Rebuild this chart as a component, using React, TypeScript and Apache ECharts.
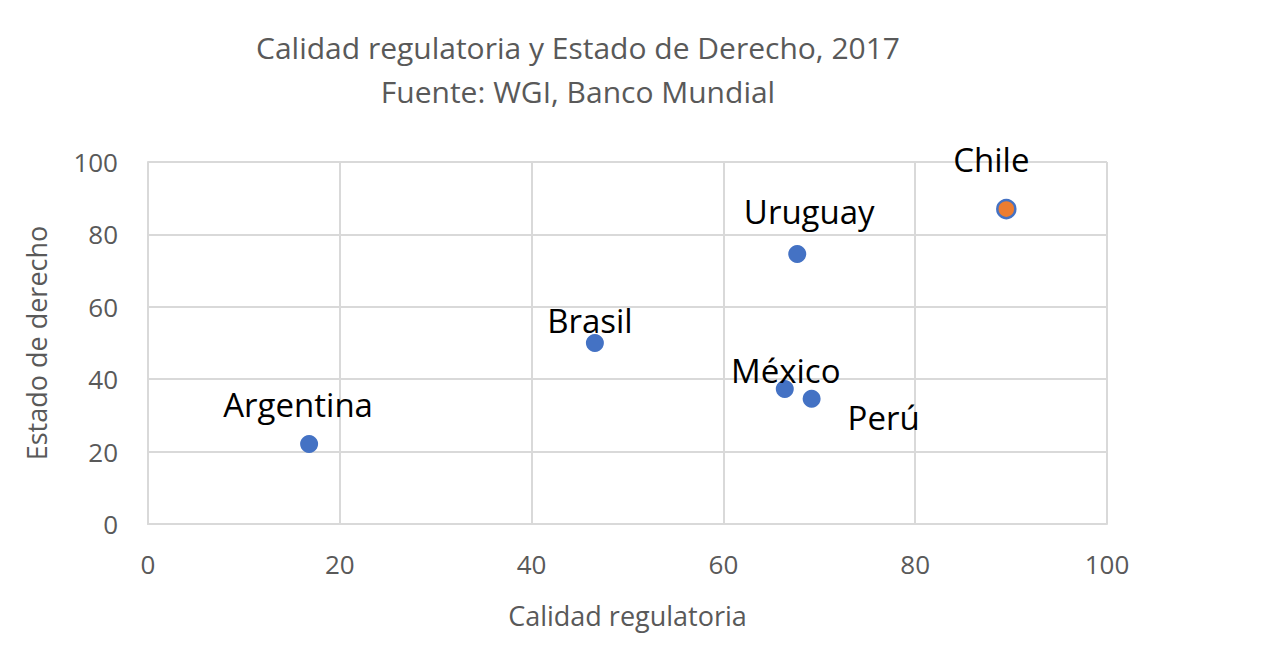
import React, { useEffect, useRef } from "react";
import * as echarts from "echarts";

const countries = ["Argentina", "Brasil", "México", "Perú", "Uruguay", "Chile"];
const calidadRegulatoria = [16.8, 46.6, 66.4, 69.2, 67.7, 89.5];
const estadoDeDerecho = [22.1, 50.0, 37.3, 34.6, 74.6, 87.0];
const labelOffsets: [number, number][] = [
  [-11, -39],
  [-5, -23],
  [1, -18],
  [72, 19],
  [12, -42],
  [-15, -50],
];
const highlighted = ["Chile"];

const FONT = "'Open Sans', 'Liberation Sans', sans-serif";

export default function App() {
  const ref = useRef<HTMLDivElement>(null);
  useEffect(() => {
    if (!ref.current) return;
    const chart = echarts.init(ref.current, undefined, { renderer: "svg" });
    const data = countries.map((name, i) => {
      const hi = highlighted.includes(name);
      return {
        name,
        value: [calidadRegulatoria[i], estadoDeDerecho[i]],
        itemStyle: hi
          ? { color: "#ED7D31", borderColor: "#4472C4", borderWidth: 2.5, opacity: 1 }
          : { color: "#4472C4", opacity: 1 },
        label: { offset: labelOffsets[i] },
      };
    });
    chart.setOption({
      animation: false,
      backgroundColor: "#ffffff",
      title: {
        text: "Calidad regulatoria y Estado de Derecho, 2017\nFuente: WGI, Banco Mundial",
        left: 573,
        top: 20,
        textAlign: "center",
        textStyle: {
          fontFamily: FONT,
          fontSize: 30,
          fontWeight: "normal",
          color: "#595959",
          lineHeight: 44,
        },
      },
      grid: { left: 148, right: 169, top: 162, bottom: 136 },
      xAxis: {
        type: "value",
        min: 0,
        max: 100,
        interval: 20,
        name: "Calidad regulatoria",
        nameLocation: "middle",
        nameGap: 78,
        nameTextStyle: { fontFamily: FONT, fontSize: 27, color: "#595959" },
        axisLine: { show: true, lineStyle: { color: "#d9d9d9", width: 2 } },
        axisTick: { show: false },
        splitLine: { show: true, lineStyle: { color: "#d9d9d9", width: 2 } },
        axisLabel: { fontFamily: FONT, fontSize: 26, color: "#595959", margin: 27 },
      },
      yAxis: {
        type: "value",
        min: 0,
        max: 100,
        interval: 20,
        name: "Estado de derecho",
        nameLocation: "middle",
        nameGap: 98,
        nameTextStyle: { fontFamily: FONT, fontSize: 27, color: "#595959" },
        axisLine: { show: true, lineStyle: { color: "#d9d9d9", width: 2 } },
        axisTick: { show: false },
        splitLine: { show: true, lineStyle: { color: "#d9d9d9", width: 2 } },
        axisLabel: { fontFamily: FONT, fontSize: 26, color: "#595959", margin: 30 },
      },
      series: [
        {
          type: "scatter",
          symbol: "circle",
          symbolSize: 18,
          data,
          itemStyle: { opacity: 1 },
          label: {
            show: true,
            position: "inside",
            formatter: "{b}",
            fontFamily: FONT,
            fontSize: 33,
            color: "#000000",
            opacity: 1,
          },
        },
      ],
    });
    return () => chart.dispose();
  }, []);
  return (
    <div
      ref={ref}
      style={{ position: "absolute", left: 0, top: 0, width: 1276, height: 660 }}
    />
  );
}
